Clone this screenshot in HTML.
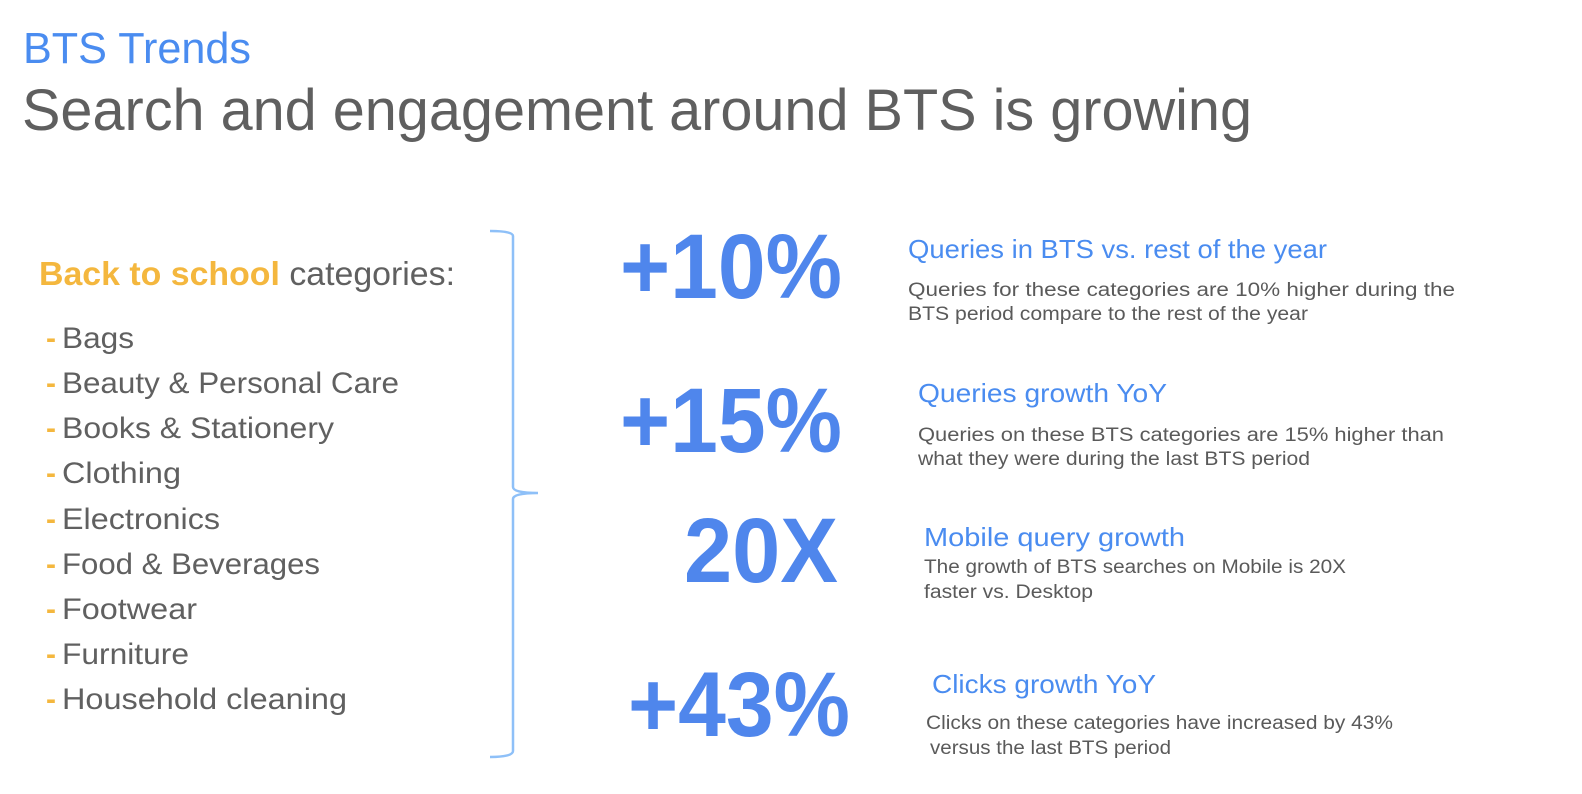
<!DOCTYPE html>
<html><head><meta charset="utf-8"><style>
html,body{margin:0;padding:0;background:#fff;width:1582px;height:794px;overflow:hidden}
svg{display:block;font-family:"Liberation Sans",sans-serif}
.big{font-weight:bold;font-size:92px;fill:#4F86EC}
.hd{font-size:26px;fill:#4A8CF0}
.ds{font-size:19px;fill:#5a5a5a}
.li{font-size:30px;fill:#606060}
.da{font-size:30px;fill:#F4B73E;font-weight:bold}
</style></head><body>
<svg width="1582" height="794" viewBox="0 0 1582 794">
<text x="23" y="63" font-size="44" fill="#4A8CF0" textLength="228" lengthAdjust="spacingAndGlyphs">BTS Trends</text>
<text x="22" y="130" font-size="58" fill="#5f5f5f" textLength="1230" lengthAdjust="spacingAndGlyphs">Search and engagement around BTS is growing</text>

<g>
<text x="39" y="285" font-size="33" textLength="416" lengthAdjust="spacingAndGlyphs"><tspan fill="#F4B73E" font-weight="bold">Back to school</tspan><tspan fill="#606060"> categories:</tspan></text>
<g><text class="da" x="46" y="348">-</text><text class="li" x="62" y="348" textLength="72" lengthAdjust="spacingAndGlyphs">Bags</text></g>
<g><text class="da" x="46" y="393">-</text><text class="li" x="62" y="393" textLength="337" lengthAdjust="spacingAndGlyphs">Beauty &amp; Personal Care</text></g>
<g><text class="da" x="46" y="438">-</text><text class="li" x="62" y="438" textLength="272" lengthAdjust="spacingAndGlyphs">Books &amp; Stationery</text></g>
<g><text class="da" x="46" y="483">-</text><text class="li" x="62" y="483" textLength="119" lengthAdjust="spacingAndGlyphs">Clothing</text></g>
<g><text class="da" x="46" y="529">-</text><text class="li" x="62" y="529" textLength="158" lengthAdjust="spacingAndGlyphs">Electronics</text></g>
<g><text class="da" x="46" y="574">-</text><text class="li" x="62" y="574" textLength="258" lengthAdjust="spacingAndGlyphs">Food &amp; Beverages</text></g>
<g><text class="da" x="46" y="619">-</text><text class="li" x="62" y="619" textLength="135" lengthAdjust="spacingAndGlyphs">Footwear</text></g>
<g><text class="da" x="46" y="664">-</text><text class="li" x="62" y="664" textLength="127" lengthAdjust="spacingAndGlyphs">Furniture</text></g>
<g><text class="da" x="46" y="709">-</text><text class="li" x="62" y="709" textLength="285" lengthAdjust="spacingAndGlyphs">Household cleaning</text></g>
</g>

<path d="M490 231 Q513 231 513 236 L513 487 Q513 493 538 493 Q513 493 513 499 L513 751 Q513 757 490 757" fill="none" stroke="#8EC0F8" stroke-width="2.5"/>

<g>
<text class="big" x="620" y="298" textLength="222" lengthAdjust="spacingAndGlyphs">+10%</text>
<text class="hd" x="908" y="258" textLength="419" lengthAdjust="spacingAndGlyphs">Queries in BTS vs. rest of the year</text>
<text class="ds" x="908" y="296" textLength="547" lengthAdjust="spacingAndGlyphs">Queries for these categories are 10% higher during the</text>
<text class="ds" x="908" y="320" textLength="400" lengthAdjust="spacingAndGlyphs">BTS period compare to the rest of the year</text>
</g>
<g>
<text class="big" x="620" y="452" textLength="222" lengthAdjust="spacingAndGlyphs">+15%</text>
<text class="hd" x="918" y="402" textLength="249" lengthAdjust="spacingAndGlyphs">Queries growth YoY</text>
<text class="ds" x="918" y="441" textLength="526" lengthAdjust="spacingAndGlyphs">Queries on these BTS categories are 15% higher than</text>
<text class="ds" x="918" y="465" textLength="392" lengthAdjust="spacingAndGlyphs">what they were during the last BTS period</text>
</g>
<g>
<text class="big" x="684" y="582" textLength="154" lengthAdjust="spacingAndGlyphs">20X</text>
<text class="hd" x="924" y="546" textLength="261" lengthAdjust="spacingAndGlyphs">Mobile query growth</text>
<text class="ds" x="924" y="573" textLength="422" lengthAdjust="spacingAndGlyphs">The growth of BTS searches on Mobile is 20X</text>
<text class="ds" x="924" y="598" textLength="169" lengthAdjust="spacingAndGlyphs">faster vs. Desktop</text>
</g>
<g>
<text class="big" x="628" y="736" textLength="222" lengthAdjust="spacingAndGlyphs">+43%</text>
<text class="hd" x="932" y="693" textLength="224" lengthAdjust="spacingAndGlyphs">Clicks growth YoY</text>
<text class="ds" x="926" y="729" textLength="467" lengthAdjust="spacingAndGlyphs">Clicks on these categories have increased by 43%</text>
<text class="ds" x="930" y="754" textLength="241" lengthAdjust="spacingAndGlyphs">versus the last BTS period</text>
</g>
</svg>
</body></html>
